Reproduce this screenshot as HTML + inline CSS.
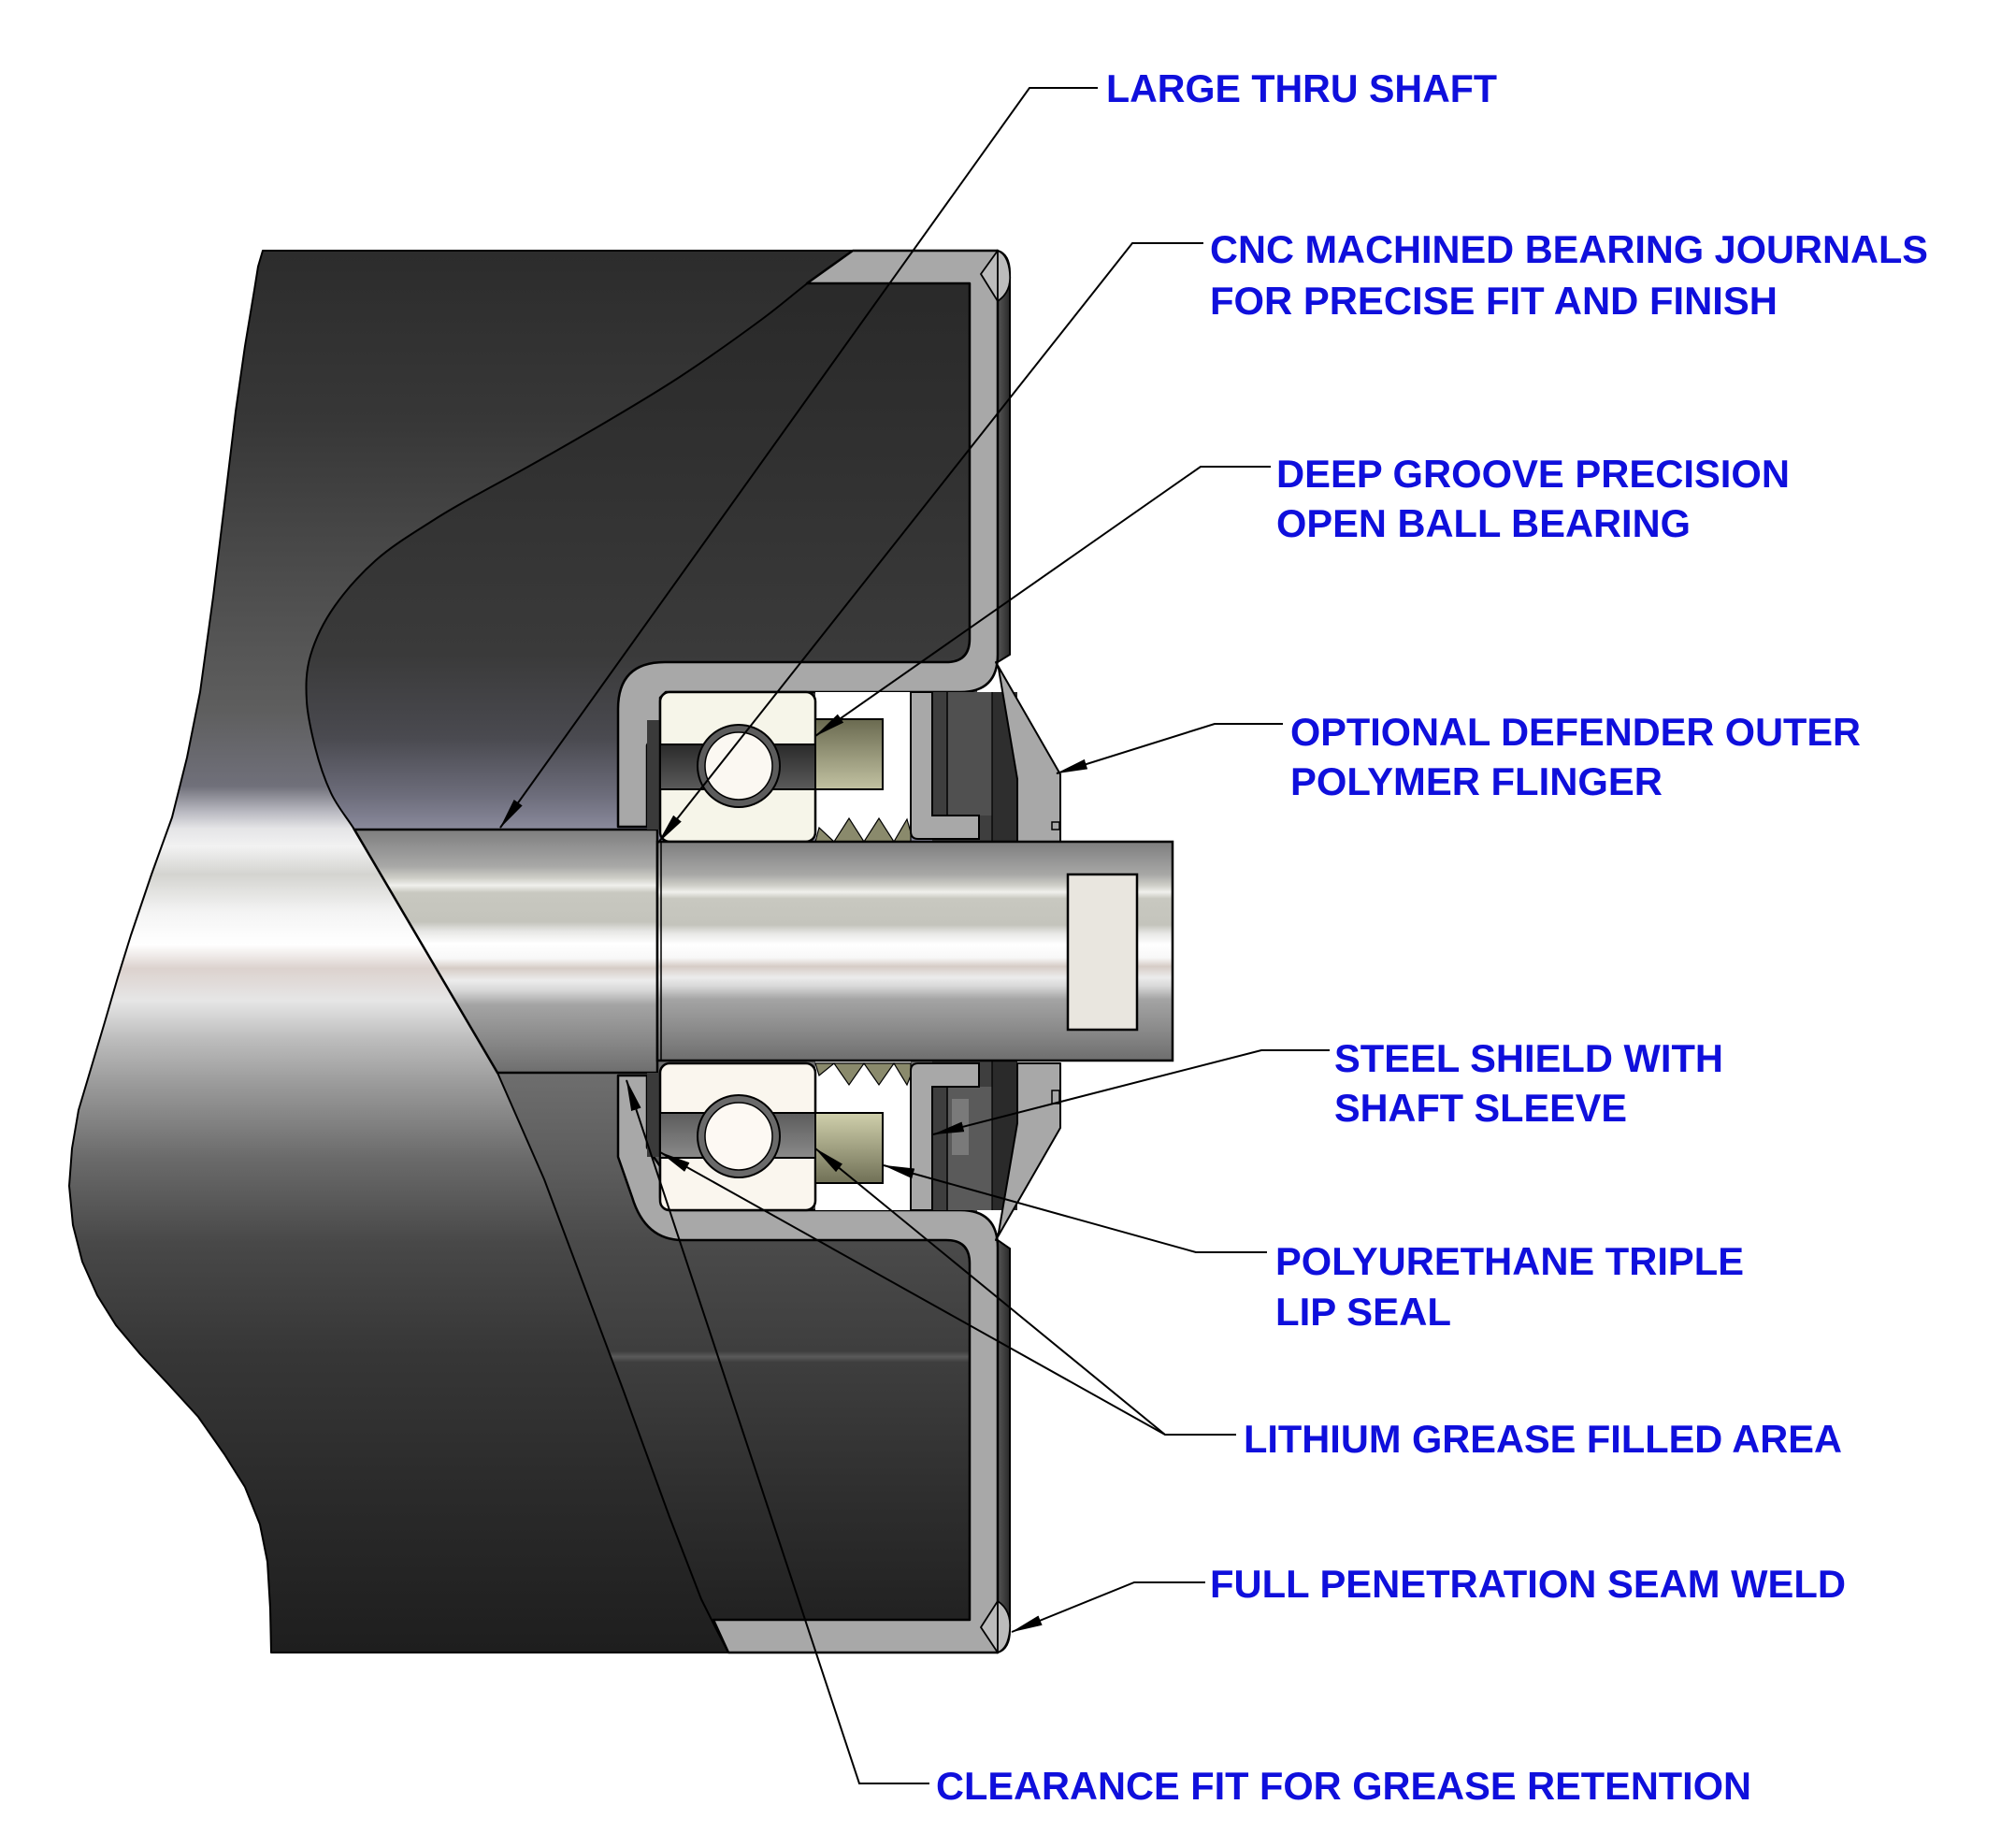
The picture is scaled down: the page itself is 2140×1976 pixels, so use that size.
<!DOCTYPE html>
<html><head><meta charset="utf-8"><style>
html,body{margin:0;padding:0;background:#fff;}
svg{display:block;}
text{font-family:"Liberation Sans",Arial,sans-serif;font-weight:bold;font-size:42px;fill:#0f0fdc;}
</style></head><body>
<svg width="2140" height="1976" viewBox="0 0 2140 1976" xmlns="http://www.w3.org/2000/svg">
<defs>
<linearGradient id="gLeft" x1="0" y1="268" x2="0" y2="1767" gradientUnits="userSpaceOnUse">
<stop offset="0" stop-color="#2c2c2c"/>
<stop offset="0.121" stop-color="#373737"/>
<stop offset="0.222" stop-color="#4a4a4a"/>
<stop offset="0.328" stop-color="#5e5e5e"/>
<stop offset="0.382" stop-color="#70707a"/>
<stop offset="0.400" stop-color="#b8b8c0"/>
<stop offset="0.412" stop-color="#e4e4e6"/>
<stop offset="0.425" stop-color="#f2f2f2"/>
<stop offset="0.445" stop-color="#d4d4d0"/>
<stop offset="0.472" stop-color="#f4f4f4"/>
<stop offset="0.495" stop-color="#ffffff"/>
<stop offset="0.512" stop-color="#dcd2ce"/>
<stop offset="0.535" stop-color="#e6e6e6"/>
<stop offset="0.562" stop-color="#bdbdbd"/>
<stop offset="0.595" stop-color="#9a9a9a"/>
<stop offset="0.648" stop-color="#6a6a6a"/>
<stop offset="0.708" stop-color="#484848"/>
<stop offset="0.789" stop-color="#363636"/>
<stop offset="0.889" stop-color="#2a2a2a"/>
<stop offset="1" stop-color="#1e1e1e"/>
</linearGradient>
<linearGradient id="gInt" x1="0" y1="268" x2="0" y2="1767" gradientUnits="userSpaceOnUse">
<stop offset="0" stop-color="#282828"/>
<stop offset="0.155" stop-color="#313131"/>
<stop offset="0.288" stop-color="#3a3a3a"/>
<stop offset="0.348" stop-color="#4a4a50"/>
<stop offset="0.388" stop-color="#6c6c7a"/>
<stop offset="0.413" stop-color="#8a8a9c"/>
<stop offset="0.587" stop-color="#6e6e6e"/>
<stop offset="0.655" stop-color="#5c5c5c"/>
<stop offset="0.708" stop-color="#4a4a4a"/>
<stop offset="0.785" stop-color="#3e3e3e"/>
<stop offset="0.789" stop-color="#5a5a5a"/>
<stop offset="0.793" stop-color="#3e3e3e"/>
<stop offset="0.889" stop-color="#2e2e2e"/>
<stop offset="1" stop-color="#1e1e1e"/>
</linearGradient>
<linearGradient id="gShaft" x1="0" y1="0" x2="0" y2="1">
<stop offset="0" stop-color="#7e7e7e"/>
<stop offset="0.08" stop-color="#949494"/>
<stop offset="0.15" stop-color="#a8a8a6"/>
<stop offset="0.2" stop-color="#cfcfc8"/>
<stop offset="0.23" stop-color="#f0f0ec"/>
<stop offset="0.26" stop-color="#c8c8c0"/>
<stop offset="0.38" stop-color="#c4c4bc"/>
<stop offset="0.42" stop-color="#e8e8e6"/>
<stop offset="0.47" stop-color="#ffffff"/>
<stop offset="0.53" stop-color="#f8f8f8"/>
<stop offset="0.57" stop-color="#d6ccc6"/>
<stop offset="0.62" stop-color="#ececec"/>
<stop offset="0.66" stop-color="#d8d8d8"/>
<stop offset="0.72" stop-color="#a4a4a4"/>
<stop offset="0.85" stop-color="#8c8c8c"/>
<stop offset="1" stop-color="#6e6e6e"/>
</linearGradient>
<linearGradient id="gBandU" x1="0" y1="0" x2="0" y2="1">
<stop offset="0" stop-color="#2a2a2a"/>
<stop offset="1" stop-color="#5a5a5a"/>
</linearGradient>
<linearGradient id="gBandL" x1="0" y1="0" x2="0" y2="1">
<stop offset="0" stop-color="#5c5c5c"/>
<stop offset="1" stop-color="#8a8a8a"/>
</linearGradient>
<linearGradient id="gSealU" x1="0" y1="0" x2="0" y2="1">
<stop offset="0" stop-color="#6a6a50"/>
<stop offset="1" stop-color="#c2c2a2"/>
</linearGradient>
<linearGradient id="gSealL" x1="0" y1="0" x2="0" y2="1">
<stop offset="0" stop-color="#d0d0ac"/>
<stop offset="1" stop-color="#707056"/>
</linearGradient>
<linearGradient id="gStrip" x1="0" y1="0" x2="1" y2="0">
<stop offset="0" stop-color="#555"/>
<stop offset="1" stop-color="#2a2a2a"/>
</linearGradient>
<marker id="ah" viewBox="0 0 34 12" refX="33" refY="6" markerWidth="34" markerHeight="12" markerUnits="userSpaceOnUse" orient="auto">
<path d="M0,0.5 L34,6 L0,11.5 Z" fill="#000"/>
</marker>
</defs>
<rect width="2140" height="1976" fill="#fff"/>

<!-- interior of tube -->
<rect x="320" y="268" width="725" height="1499" fill="url(#gInt)"/>

<!-- outer surface (left of cutaway curve) -->
<path d="M281,268 L912,268
C904,274 882,289 866,301
C850,313 837,325 814,342
C791,359 756,384 727,403
C698,422 669,439 640,456
C611,473 583,489 554,505
C525,521 492,538 467,554
C442,570 420,583 402,599
C384,615 370,631 358,648
C346,665 337,684 332,701
C327,718 327,734 328,750
C329,766 333,783 337,799
C341,815 347,833 354,848
C361,863 371,874 379,887
L532,1147 L582,1261 L624,1373 L666,1485 L716,1622 L750,1710 L765,1740 L779,1767
L290,1767 L289,1720 L286,1670 L278,1630 L262,1590 L240,1555 L212,1515 L180,1480 L150,1448 L124,1417 L104,1385 L88,1349 L78,1310 L74,1268 L77,1228 L84,1187 L98,1140 L112,1093 L126,1045 L140,1000 L162,935 L184,874 L200,810 L214,740 L228,638 L240,540 L252,440 L262,370 L272,310 L276,285 Z" fill="url(#gLeft)" stroke="#000" stroke-width="2" stroke-linejoin="round"/>

<!-- large shaft -->
<path d="M379,887 L703,887 L703,1147 L532,1147 Z" fill="url(#gShaft)" stroke="#000" stroke-width="2.5"/>

<!-- right dark strips (outer face of end disc) -->
<path d="M1067,268 Q1080,272 1080,292 L1080,700 L1067,708 Z" fill="url(#gStrip)" stroke="#000" stroke-width="2"/>
<path d="M1067,1767 Q1080,1763 1080,1743 L1080,1335 L1067,1326 Z" fill="url(#gStrip)" stroke="#000" stroke-width="2"/>

<!-- housing upper -->
<path d="M912,268 L1067,268 L1067,700 Q1067,740 1027,740 L712,740 L706,746 L706,770 L692,797 L692,884 L661,884 L661,758 Q661,708 711,708 L1012,708 Q1037,708 1037,683 L1037,303 L863,303 Z" fill="#a8a8a8" stroke="#000" stroke-width="2.5" stroke-linejoin="round"/>
<!-- housing lower -->
<path d="M779,1767 L1067,1767 L1067,1334 Q1067,1294 1027,1294 L722,1294 Q706,1294 706,1280 L706,1247 L692,1227 L692,1150 L661,1150 L661,1237 L676,1280 Q690,1326 730,1326 L1012,1326 Q1037,1326 1037,1351 L1037,1732 L763,1732 Z" fill="#a8a8a8" stroke="#000" stroke-width="2.5" stroke-linejoin="round"/>

<!-- welds -->
<path d="M1067,268 L1049,293 L1067,322 Q1082,312 1080,292 Q1078,272 1067,268 Z" fill="#bcbcbc" stroke="#000" stroke-width="1.8"/>
<line x1="1067" y1="268" x2="1067" y2="322" stroke="#000" stroke-width="1.8"/>
<path d="M1067,1767 L1049,1740 L1067,1712 Q1082,1722 1080,1743 Q1078,1763 1067,1767 Z" fill="#bcbcbc" stroke="#000" stroke-width="1.8"/>
<line x1="1067" y1="1712" x2="1067" y2="1767" stroke="#000" stroke-width="1.8"/>

<!-- ===== upper hub internals ===== -->
<rect x="692" y="770" width="14" height="117" fill="#3a3a3a"/>
<rect x="997" y="740" width="91" height="160" fill="#3e3e3e"/>
<rect x="1013" y="740" width="48" height="132" fill="#505050"/>
<rect x="1061" y="740" width="27" height="160" fill="#2e2e2e"/>
<line x1="1013" y1="740" x2="1013" y2="872" stroke="#000" stroke-width="1.5"/>
<line x1="1061" y1="740" x2="1061" y2="900" stroke="#000" stroke-width="1.2"/>
<rect x="872" y="740" width="102" height="160" fill="#fff"/>
<rect x="706" y="740" width="166" height="160" rx="10" fill="#f6f5e9" stroke="#000" stroke-width="2.5"/>
<rect x="706" y="796" width="166" height="48" fill="url(#gBandU)" stroke="#000" stroke-width="2"/>
<circle cx="790" cy="819" r="44" fill="#5c5c5c" stroke="#000" stroke-width="2"/>
<circle cx="790" cy="819" r="36" fill="#fbf8f2" stroke="#000" stroke-width="1.5"/>
<rect x="872" y="769" width="72" height="75" fill="url(#gSealU)" stroke="#000" stroke-width="2"/>
<path d="M872,900 L876,885 L892,900 L908,875 L924,900 L940,875 L956,900 L970,876 L974,890 L974,900 Z" fill="#8a8a6c" stroke="#000" stroke-width="1.2"/>
<path d="M974,740 L997,740 L997,872 L1047,872 L1047,897 L982,897 Q974,897 974,889 Z" fill="#a8a8a8" stroke="#000" stroke-width="2"/>
<path d="M1065,708 L1134,828 L1134,900 L1088,900 L1088,833 L1068,715 Z" fill="#a8a8a8" stroke="#000" stroke-width="2" stroke-linejoin="round"/>
<rect x="1125" y="879" width="8" height="8" fill="none" stroke="#000" stroke-width="1.5"/>

<!-- ===== lower hub internals ===== -->
<rect x="692" y="1147" width="14" height="90" fill="#3a3a3a"/>
<rect x="997" y="1134" width="91" height="160" fill="#3e3e3e"/>
<rect x="1013" y="1162" width="48" height="132" fill="#5a5a5a"/>
<rect x="1018" y="1175" width="18" height="60" fill="#7a7a7a"/>
<rect x="1061" y="1134" width="27" height="160" fill="#2a2a2a"/>
<line x1="1013" y1="1162" x2="1013" y2="1294" stroke="#000" stroke-width="1.5"/>
<line x1="1061" y1="1134" x2="1061" y2="1294" stroke="#000" stroke-width="1.2"/>
<rect x="872" y="1134" width="102" height="160" fill="#fff"/>
<rect x="706" y="1137" width="166" height="157" rx="10" fill="#faf6ee" stroke="#000" stroke-width="2.5"/>
<rect x="706" y="1190" width="166" height="48" fill="url(#gBandL)" stroke="#000" stroke-width="2"/>
<circle cx="790" cy="1215" r="44" fill="#6a6a6a" stroke="#000" stroke-width="2"/>
<circle cx="790" cy="1215" r="36" fill="#fdf9f3" stroke="#000" stroke-width="1.5"/>
<rect x="872" y="1190" width="72" height="75" fill="url(#gSealL)" stroke="#000" stroke-width="2"/>
<path d="M872,1137 L876,1150 L892,1137 L908,1160 L924,1137 L940,1160 L956,1137 L970,1160 L974,1150 L974,1137 Z" fill="#8a8a6c" stroke="#000" stroke-width="1.2"/>
<path d="M974,1294 L997,1294 L997,1162 L1047,1162 L1047,1137 L982,1137 Q974,1137 974,1145 Z" fill="#a8a8a8" stroke="#000" stroke-width="2"/>
<path d="M1065,1326 L1134,1206 L1134,1137 L1088,1137 L1088,1201 L1068,1318 Z" fill="#a8a8a8" stroke="#000" stroke-width="2" stroke-linejoin="round"/>
<rect x="1125" y="1166" width="8" height="14" fill="none" stroke="#000" stroke-width="1.5"/>

<!-- journal shaft -->
<rect x="703" y="900" width="551" height="234" fill="url(#gShaft)" stroke="#000" stroke-width="2.5"/>
<line x1="707" y1="900" x2="707" y2="1134" stroke="#000" stroke-width="1.5"/>
<rect x="1142" y="935" width="74" height="166" fill="#e9e6df" stroke="#000" stroke-width="2.5"/>

<!-- leaders -->
<g stroke="#000" stroke-width="2" fill="none">
<polyline points="1174,94 1101,94 535,885" marker-end="url(#ah)"/>
<polyline points="1287,260 1211,260 704,901" marker-end="url(#ah)"/>
<polyline points="1359,499 1284,499 872,787" marker-end="url(#ah)"/>
<polyline points="1372,774 1299,774 1130,827" marker-end="url(#ah)"/>
<polyline points="1422,1123 1349,1123 998,1213" marker-end="url(#ah)"/>
<polyline points="1355,1339 1279,1339 945,1246" marker-end="url(#ah)"/>
<polyline points="1322,1534 1246,1534 706,1232" marker-end="url(#ah)"/>
<polyline points="1246,1534 872,1228" marker-end="url(#ah)"/>
<polyline points="1289,1692 1213,1692 1082,1745" marker-end="url(#ah)"/>
<polyline points="994,1907 919,1907 670,1155" marker-end="url(#ah)"/>
</g>

<!-- labels -->
<text x="1183" y="109" textLength="418" lengthAdjust="spacingAndGlyphs">LARGE THRU SHAFT</text>
<text x="1294" y="281" textLength="768" lengthAdjust="spacingAndGlyphs">CNC MACHINED BEARING JOURNALS</text>
<text x="1294" y="336" textLength="607" lengthAdjust="spacingAndGlyphs">FOR PRECISE FIT AND FINISH</text>
<text x="1365" y="521" textLength="549" lengthAdjust="spacingAndGlyphs">DEEP GROOVE PRECISION</text>
<text x="1365" y="574" textLength="443" lengthAdjust="spacingAndGlyphs">OPEN BALL BEARING</text>
<text x="1380" y="797" textLength="610" lengthAdjust="spacingAndGlyphs">OPTIONAL DEFENDER OUTER</text>
<text x="1380" y="850" textLength="398" lengthAdjust="spacingAndGlyphs">POLYMER FLINGER</text>
<text x="1427" y="1146" textLength="416" lengthAdjust="spacingAndGlyphs">STEEL SHIELD WITH</text>
<text x="1427" y="1199" textLength="313" lengthAdjust="spacingAndGlyphs">SHAFT SLEEVE</text>
<text x="1364" y="1363" textLength="501" lengthAdjust="spacingAndGlyphs">POLYURETHANE TRIPLE</text>
<text x="1364" y="1417" textLength="188" lengthAdjust="spacingAndGlyphs">LIP SEAL</text>
<text x="1330" y="1553" textLength="640" lengthAdjust="spacingAndGlyphs">LITHIUM GREASE FILLED AREA</text>
<text x="1294" y="1708" textLength="680" lengthAdjust="spacingAndGlyphs">FULL PENETRATION SEAM WELD</text>
<text x="1001" y="1924" textLength="872" lengthAdjust="spacingAndGlyphs">CLEARANCE FIT FOR GREASE RETENTION</text>
</svg>
</body></html>
